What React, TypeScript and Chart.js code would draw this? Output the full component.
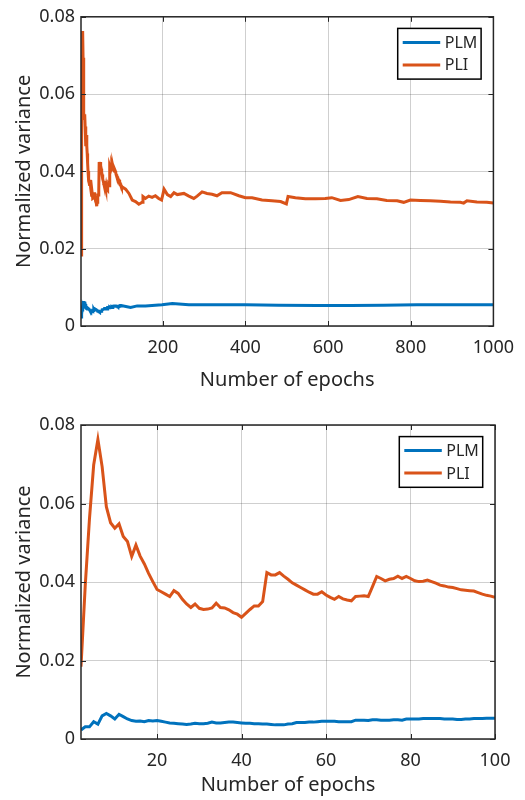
import React, { useEffect, useRef } from 'react';
import { Chart, registerables } from 'chart.js';

Chart.register(...registerables);

const FONT = '"Noto Sans", sans-serif';
const TEXT = '#262626';
const GRID = 'rgba(38,38,38,0.22)';
const BLUE = '#0072BD';
const ORANGE = '#D95319';

const seriesNames = ['PLM', 'PLI'];
const xTitle = 'Number of epochs';
const yTitle = 'Normalized variance';
const yTicks = [0, 0.02, 0.04, 0.06, 0.08];
const xTicksTop = [200, 400, 600, 800, 1000];
const xTicksBottom = [20, 40, 60, 80, 100];

// epochs 2..100 (one value per epoch)
const firstEpoch = 2;
const pliEarly = [
  0.0184, 0.039, 0.056, 0.0698, 0.0763, 0.0694, 0.0592, 0.0551, 0.0537, 0.0548,
  0.0516, 0.0503, 0.0465, 0.0494, 0.0466, 0.0446, 0.0422, 0.0401, 0.0381, 0.0375,
  0.0369, 0.0363, 0.0378, 0.0371, 0.0356, 0.0344, 0.0335, 0.0344, 0.0333, 0.033,
  0.0331, 0.0334, 0.0346, 0.0335, 0.0334, 0.0329, 0.0322, 0.0318, 0.031, 0.032,
  0.033, 0.0339, 0.0339, 0.035, 0.0424, 0.0418, 0.0418, 0.0424, 0.0415, 0.0407,
  0.0398, 0.0392, 0.0386, 0.038, 0.0374, 0.0369, 0.0369, 0.0375, 0.0367, 0.0361,
  0.0356, 0.0363, 0.0357, 0.0354, 0.0352, 0.0363, 0.0364, 0.0365, 0.0363, 0.0388,
  0.0414, 0.0409, 0.0403, 0.0407, 0.0409, 0.0415, 0.0409, 0.0414, 0.0409, 0.0403,
  0.0401, 0.0402, 0.0405, 0.0401, 0.0397, 0.0392, 0.039, 0.0387, 0.0386, 0.0383,
  0.038, 0.0379, 0.0378, 0.0377, 0.0373, 0.0369, 0.0366, 0.0364, 0.0361,
];
const plmEarly = [
  0.0023, 0.0031, 0.0031, 0.0044, 0.0038, 0.0059, 0.0065, 0.0059, 0.0051, 0.0063,
  0.0057, 0.0051, 0.0047, 0.0045, 0.0046, 0.0044, 0.0047, 0.0046, 0.0047, 0.0045,
  0.0043, 0.0041, 0.004, 0.0039, 0.0038, 0.0037, 0.0038, 0.004, 0.0039, 0.0039,
  0.004, 0.0043, 0.0041, 0.0041, 0.0042, 0.0043, 0.0043, 0.0042, 0.0041, 0.004,
  0.004, 0.0039, 0.0039, 0.0038, 0.0038, 0.0037, 0.0036, 0.0036, 0.0036, 0.0038,
  0.0039, 0.0042, 0.0042, 0.0042, 0.0043, 0.0043, 0.0044, 0.0045, 0.0045, 0.0045,
  0.0045, 0.0044, 0.0044, 0.0044, 0.0044, 0.0048, 0.0048, 0.0048, 0.0047, 0.0049,
  0.0049, 0.0048, 0.0048, 0.0048, 0.0049, 0.0049, 0.0048, 0.0051, 0.0051, 0.0051,
  0.0051, 0.0052, 0.0052, 0.0052, 0.0052, 0.0052, 0.0051, 0.0051, 0.0051, 0.005,
  0.005, 0.0051, 0.0051, 0.0052, 0.0052, 0.0052, 0.0053, 0.0053, 0.0053,
];

// sampled epochs beyond 100 (upper chart)
const pliLateEpochs = [
  110, 118, 126, 134, 142, 150, 152, 158, 166, 174, 182, 190, 197, 203, 211, 219,
  227, 235, 251, 263, 275, 283, 295, 307, 319, 331, 343, 364, 384, 400, 416, 440,
  464, 485, 499, 503, 521, 545, 569, 593, 609, 630, 650, 672, 694, 718, 742, 767,
  783, 799, 823, 847, 872, 896, 920, 928, 936, 960, 984, 1000,
];
const pliLateValues = [
  0.0354, 0.0343, 0.0326, 0.0322, 0.0315, 0.032, 0.0335, 0.033, 0.0336, 0.0333,
  0.0337, 0.033, 0.0326, 0.0354, 0.034, 0.0335, 0.0345, 0.034, 0.0343, 0.0336,
  0.033, 0.0336, 0.0347, 0.0343, 0.0341, 0.0337, 0.0345, 0.0345, 0.0337, 0.0332,
  0.0332, 0.0326, 0.0324, 0.0322, 0.0316, 0.0335, 0.0332, 0.0329, 0.0329, 0.033,
  0.0332, 0.0325, 0.0327, 0.0335, 0.033, 0.0329, 0.0325, 0.0324, 0.032, 0.0326,
  0.0325, 0.0324, 0.0323, 0.0321, 0.032, 0.0318, 0.0324, 0.0321, 0.032, 0.0318,
];
const plmLateEpochs = [122, 138, 158, 198, 223, 263, 319, 400, 480, 573, 654, 734, 815, 896, 1000];
const plmLateValues = [
  0.0048, 0.0052, 0.0052, 0.0055, 0.0058, 0.0055, 0.0055, 0.0055, 0.0054, 0.0053,
  0.0053, 0.0054, 0.0055, 0.0055, 0.0055,
];

type Pt = { x: number; y: number };
const early = (vals: number[]): Pt[] => vals.map((y, i) => ({ x: firstEpoch + i, y }));
const late = (xs: number[], ys: number[]): Pt[] => xs.map((x, i) => ({ x, y: ys[i] }));

const framePlugin = {
  id: 'frameLegend',
  afterDatasetsDraw(chart: any) {
    const { ctx, chartArea: a, scales } = chart;
    ctx.save();
    ctx.strokeStyle = TEXT;
    ctx.lineWidth = 1;
    const tl = 5;
    ctx.beginPath();
    for (const t of scales.x.ticks) {
      const px = Math.round(scales.x.getPixelForValue(t.value)) + 0.5;
      ctx.moveTo(px, a.bottom);
      ctx.lineTo(px, a.bottom - tl);
      ctx.moveTo(px, a.top);
      ctx.lineTo(px, a.top + tl);
    }
    for (const t of scales.y.ticks) {
      const py = Math.round(scales.y.getPixelForValue(t.value)) + 0.5;
      ctx.moveTo(a.left, py);
      ctx.lineTo(a.left + tl, py);
      ctx.moveTo(a.right, py);
      ctx.lineTo(a.right - tl, py);
    }
    ctx.stroke();
    ctx.lineWidth = 1.5;
    ctx.strokeRect(a.left, a.top, a.right - a.left, a.bottom - a.top);

    // legend
    const w = 83.4;
    const h = 50.7;
    const bx = a.right - 12.3 - w;
    const by = a.top + 11.6;
    ctx.fillStyle = '#ffffff';
    ctx.fillRect(bx, by, w, h);
    ctx.strokeStyle = '#000000';
    ctx.lineWidth = 1.5;
    ctx.strokeRect(bx, by, w, h);
    const colors = [BLUE, ORANGE];
    const rows = [by + 14, by + 36.5];
    ctx.font = `16px ${FONT}`;
    ctx.textBaseline = 'middle';
    ctx.textAlign = 'left';
    seriesNames.forEach((name, i) => {
      ctx.strokeStyle = colors[i];
      ctx.lineWidth = 3;
      ctx.beginPath();
      ctx.moveTo(bx + 5, rows[i]);
      ctx.lineTo(bx + 42.5, rows[i]);
      ctx.stroke();
      ctx.fillStyle = TEXT;
      ctx.fillText(name, bx + 47, rows[i] + 1);
    });
    ctx.restore();
  },
};

function makeConfig(
  plm: Pt[],
  pli: Pt[],
  xMin: number,
  xMax: number,
  xTicks: number[],
  padTop: number,
  xAxisHeight: number,
  xTitleBottomPad: number
): any {
  return {
    type: 'line',
    data: {
      datasets: [
        { label: seriesNames[0], data: plm, borderColor: BLUE, borderWidth: 3, pointRadius: 0, tension: 0, fill: false },
        { label: seriesNames[1], data: pli, borderColor: ORANGE, borderWidth: 3, pointRadius: 0, tension: 0, fill: false },
      ],
    },
    options: {
      animation: false,
      responsive: false,
      layout: { padding: { top: padTop, right: 30, left: 0, bottom: 0 } },
      plugins: { legend: { display: false }, tooltip: { enabled: false } },
      scales: {
        x: {
          type: 'linear',
          min: xMin,
          max: xMax,
          afterBuildTicks: (axis: any) => {
            axis.ticks = xTicks.map((v) => ({ value: v }));
          },
          afterFit: (s: any) => {
            s.height = xAxisHeight;
          },
          grid: { color: GRID, lineWidth: 1, drawTicks: false },
          border: { display: false },
          ticks: {
            color: TEXT,
            font: { family: FONT, size: 18 },
            padding: 11,
            maxRotation: 0,
            autoSkip: false,
            callback: (v: any) => String(v),
          },
          title: {
            display: true,
            text: xTitle,
            color: TEXT,
            font: { family: FONT, size: 20 },
            padding: { top: 0, bottom: xTitleBottomPad },
          },
        },
        y: {
          type: 'linear',
          min: 0,
          max: 0.08,
          afterBuildTicks: (axis: any) => {
            axis.ticks = yTicks.map((v) => ({ value: v }));
          },
          afterFit: (s: any) => {
            s.width = 81;
          },
          grid: { color: GRID, lineWidth: 1, drawTicks: false },
          border: { display: false },
          ticks: {
            color: TEXT,
            font: { family: FONT, size: 18 },
            padding: 6,
            callback: (v: any) => (v === 0 ? '0' : Number(v).toFixed(2)),
          },
          title: {
            display: true,
            text: yTitle,
            color: TEXT,
            font: { family: FONT, size: 20 },
            padding: { top: 12, bottom: 0 },
          },
        },
      },
    },
    plugins: [framePlugin],
  };
}

export default function App() {
  const topRef = useRef<HTMLCanvasElement | null>(null);
  const botRef = useRef<HTMLCanvasElement | null>(null);

  useEffect(() => {
    if (!topRef.current || !botRef.current) return;
    const topPLM = [...early(plmEarly), ...late(plmLateEpochs, plmLateValues)];
    const topPLI = [...early(pliEarly), ...late(pliLateEpochs, pliLateValues)];
    const c1 = new Chart(
      topRef.current,
      makeConfig(topPLM, topPLI, 2, 1000, xTicksTop, 13, 74, 8)
    );
    const c2 = new Chart(
      botRef.current,
      makeConfig(early(plmEarly), early(pliEarly), 2, 100, xTicksBottom, 25, 61, 3)
    );
    return () => {
      c1.destroy();
      c2.destroy();
    };
  }, []);

  return (
    <div style={{ position: 'absolute', left: 0, top: 0, width: 525, height: 800, background: '#ffffff' }}>
      <canvas ref={topRef} width={525} height={400} style={{ position: 'absolute', left: 0, top: 0 }} />
      <canvas ref={botRef} width={525} height={400} style={{ position: 'absolute', left: 0, top: 400 }} />
    </div>
  );
}
